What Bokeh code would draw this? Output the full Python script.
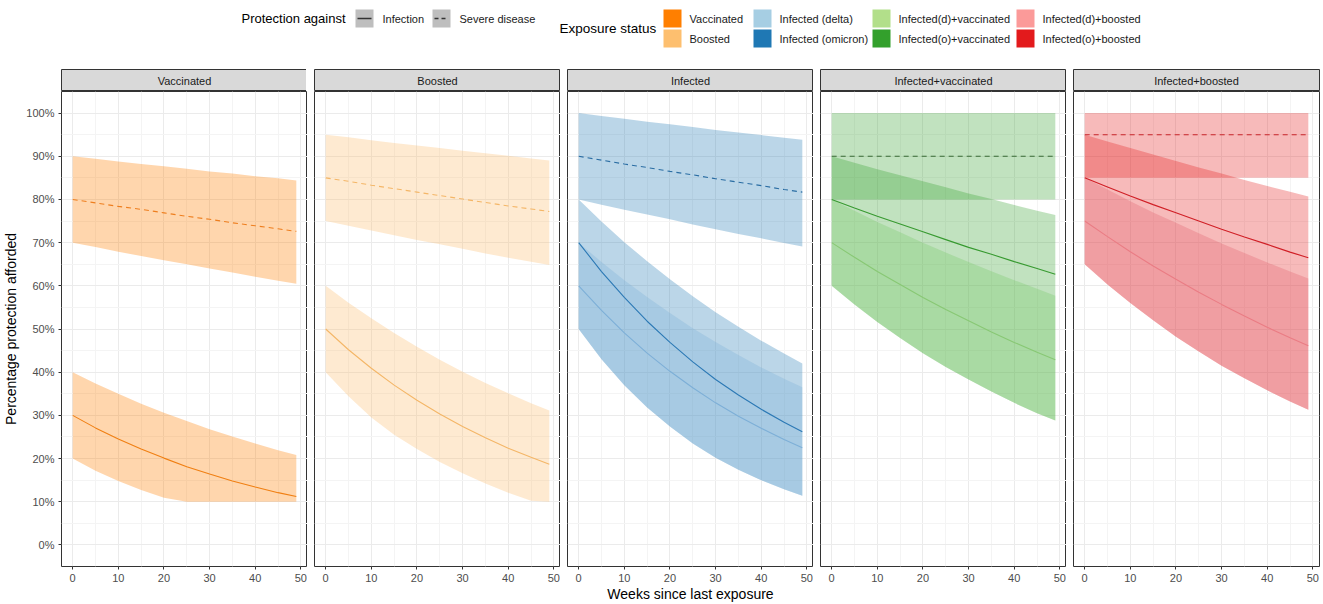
from bokeh.plotting import figure
from bokeh.layouts import column, row
from bokeh.models import FixedTicker, PrintfTickFormatter, Range1d
from bokeh.embed import file_html
from bokeh.resources import INLINE
from bokeh.core.properties import value

FONT = "Liberation Sans"

# ---------------- data ----------------
weeks = [0, 5, 10, 15, 20, 25, 30, 35, 40, 45, 49]
panel_names = ["Vaccinated", "Boosted", "Infected", "Infected+vaccinated", "Infected+boosted"]
x_ticks = [0, 10, 20, 30, 40, 50]
y_ticks = [0, 10, 20, 30, 40, 50, 60, 70, 80, 90, 100]

status_labels = ["Vaccinated", "Boosted", "Infected (delta)", "Infected (omicron)",
                 "Infected(d)+vaccinated", "Infected(o)+vaccinated",
                 "Infected(d)+boosted", "Infected(o)+boosted"]
status_colors = ["#FF7F00", "#FDBF6F", "#A6CEE3", "#1F78B4",
                 "#B2DF8A", "#33A02C", "#FB9A99", "#E31A1C"]
protection_labels = ["Infection", "Severe disease"]

# Vaccinated
vacc_inf = [30.0, 27.1, 24.5, 22.2, 20.1, 18.1, 16.4, 14.8, 13.4, 12.1, 11.2]
vacc_inf_hi = [40.0, 37.4, 35.0, 32.7, 30.6, 28.7, 26.8, 25.1, 23.5, 21.9, 20.8]
vacc_inf_lo = [20.0, 17.2, 14.8, 12.7, 10.9, 10.0, 10.0, 10.0, 10.0, 10.0, 10.0]
vacc_sev = [80.0, 79.2, 78.4, 77.7, 76.9, 76.1, 75.4, 74.6, 73.9, 73.2, 72.6]
vacc_sev_hi = [90.0, 89.4, 88.8, 88.2, 87.7, 87.1, 86.5, 86.0, 85.4, 84.9, 84.4]
vacc_sev_lo = [70.0, 69.0, 67.9, 66.9, 65.9, 65.0, 64.0, 63.1, 62.1, 61.2, 60.5]

# Boosted
boost_inf = [50.0, 45.2, 40.9, 37.0, 33.5, 30.3, 27.4, 24.8, 22.4, 20.3, 18.7]
boost_inf_hi = [60.0, 56.1, 52.5, 49.1, 45.9, 42.9, 40.1, 37.5, 35.1, 32.8, 31.1]
boost_inf_lo = [40.0, 34.4, 29.5, 25.5, 22.2, 19.2, 16.6, 14.2, 12.1, 10.2, 10.0]
boost_sev = [85.0, 84.2, 83.3, 82.5, 81.7, 80.9, 80.1, 79.3, 78.5, 77.8, 77.2]
boost_sev_hi = [95.0, 94.4, 93.7, 93.1, 92.5, 91.9, 91.3, 90.7, 90.1, 89.5, 89.0]
boost_sev_lo = [75.0, 73.9, 72.8, 71.7, 70.6, 69.6, 68.6, 67.5, 66.5, 65.6, 64.8]

# Infected
inf_sev = [90.0, 89.1, 88.2, 87.4, 86.5, 85.7, 84.8, 84.0, 83.2, 82.3, 81.7]
inf_sev_hi = [100.0, 99.3, 98.7, 98.0, 97.4, 96.8, 96.1, 95.5, 94.9, 94.3, 93.8]
inf_sev_lo = [80.0, 78.8, 77.6, 76.5, 75.4, 74.2, 73.1, 72.0, 71.0, 69.9, 69.1]
inf_o = [70.0, 63.3, 57.3, 51.8, 46.9, 42.4, 38.3, 34.7, 31.4, 28.4, 26.2]
inf_o_hi = [80.0, 74.9, 70.1, 65.7, 61.5, 57.6, 53.9, 50.5, 47.3, 44.3, 42.0]
inf_d = [60.0, 54.3, 49.1, 44.4, 40.2, 36.4, 32.9, 29.8, 27.0, 24.4, 22.5]
inf_d_hi = [70.0, 65.5, 61.3, 57.4, 53.7, 50.2, 47.0, 44.0, 41.1, 38.5, 36.5]
inf_lo = [50.0, 43.0, 37.0, 31.8, 27.4, 23.5, 20.2, 17.4, 15.0, 12.9, 11.4]

# Infected+vaccinated
iv_sev = [90.0, 90.0, 90.0, 90.0, 90.0, 90.0, 90.0, 90.0, 90.0, 90.0, 90.0]
iv_sev_hi = [100.0, 100.0, 100.0, 100.0, 100.0, 100.0, 100.0, 100.0, 100.0, 100.0, 100.0]
iv_sev_lo = [80.0, 80.0, 80.0, 80.0, 80.0, 80.0, 80.0, 80.0, 80.0, 80.0, 80.0]
iv_o = [80.0, 78.0, 76.1, 74.3, 72.5, 70.7, 68.9, 67.3, 65.6, 64.0, 62.7]
iv_o_hi = [90.0, 88.5, 87.0, 85.6, 84.2, 82.8, 81.4, 80.1, 78.7, 77.4, 76.4]
iv_d = [70.0, 66.6, 63.3, 60.3, 57.3, 54.5, 51.9, 49.3, 46.9, 44.6, 42.9]
iv_d_hi = [80.0, 77.4, 74.8, 72.4, 70.0, 67.7, 65.5, 63.4, 61.3, 59.3, 57.7]
iv_lo = [60.0, 55.7, 51.6, 47.9, 44.4, 41.2, 38.3, 35.5, 32.9, 30.5, 28.8]

# Infected+boosted
ib_sev = [95.0, 95.0, 95.0, 95.0, 95.0, 95.0, 95.0, 95.0, 95.0, 95.0, 95.0]
ib_sev_hi = [100.0, 100.0, 100.0, 100.0, 100.0, 100.0, 100.0, 100.0, 100.0, 100.0, 100.0]
ib_sev_lo = [85.0, 85.0, 85.0, 85.0, 85.0, 85.0, 85.0, 85.0, 85.0, 85.0, 85.0]
ib_o = [85.0, 82.9, 80.8, 78.8, 76.9, 75.0, 73.1, 71.3, 69.6, 67.8, 66.5]
ib_o_hi = [95.0, 93.4, 91.9, 90.4, 88.9, 87.4, 86.0, 84.5, 83.1, 81.8, 80.7]
ib_d = [75.0, 71.4, 67.9, 64.6, 61.5, 58.5, 55.7, 53.0, 50.4, 48.0, 46.1]
ib_d_hi = [85.0, 82.3, 79.6, 77.0, 74.6, 72.2, 69.8, 67.6, 65.4, 63.3, 61.7]
ib_lo = [65.0, 60.3, 56.0, 52.0, 48.2, 44.8, 41.5, 38.6, 35.8, 33.2, 31.3]

# ---------------- panel specs (built from the arrays above) ----------------
A = 0.3
panels = [
    dict(bands=[(vacc_sev_lo, vacc_sev_hi, "#FF7F00", 0.32), (vacc_inf_lo, vacc_inf_hi, "#FF7F00", 0.32)],
         lines=[(vacc_sev, "#EE7E1E", "dashed"), (vacc_inf, "#F07F12", "solid")]),
    dict(bands=[(boost_sev_lo, boost_sev_hi, "#FDBF6F", 0.32), (boost_inf_lo, boost_inf_hi, "#FDBF6F", 0.32)],
         lines=[(boost_sev, "#F4B667", "dashed"), (boost_inf, "#F4B667", "solid")]),
    dict(bands=[(inf_sev_lo, inf_sev_hi, "#1F78B4", A), (inf_lo, inf_o_hi, "#1F78B4", A), (inf_lo, inf_d_hi, "#79AED7", A)],
         lines=[(inf_sev, "#2A6DA3", "dashed"), (inf_d, "#7DAFD7", "solid"), (inf_o, "#2C79B5", "solid")]),
    dict(bands=[(iv_sev_lo, iv_sev_hi, "#33A02C", A), (iv_lo, iv_o_hi, "#33A02C", A), (iv_lo, iv_d_hi, "#75C663", A)],
         lines=[(iv_sev, "#3A6A36", "dashed"), (iv_d, "#88C874", "solid"), (iv_o, "#379A30", "solid")]),
    dict(bands=[(ib_sev_lo, ib_sev_hi, "#E31A1C", A), (ib_lo, ib_o_hi, "#E31A1C", A), (ib_lo, ib_d_hi, "#E05D6B", A)],
         lines=[(ib_sev, "#C8242A", "dashed"), (ib_d, "#EA7C84", "solid"), (ib_o, "#D01F26", "solid")]),
]

FRAME_W = 246
FRAME_H = 475
STRIP_H = 22
LEFT0 = 60
GAP = 7
RIGHT_LAST = 2
LEG_H = 60
TOTAL_W = LEFT0 + 5 * FRAME_W + 4 * GAP + RIGHT_LAST

# ---------------- legend strip ----------------
leg = figure(width=TOTAL_W, height=LEG_H, x_range=Range1d(0, TOTAL_W), y_range=Range1d(LEG_H, 0),
             output_backend="svg", toolbar_location=None, min_border=0)
leg.axis.visible = False
leg.grid.visible = False
leg.outline_line_color = None

leg.text(x=[241], y=[18], text=["Protection against"], text_font=value(FONT), text_font_size="13px",
         text_baseline="middle", text_align="left", text_color="#000000")
prot_x = [355, 432]
for k, lab in enumerate(protection_labels):
    leg.rect(x=[prot_x[k] + 9], y=[18], width=18, height=18, fill_color="#BEBEBE", line_color=None)
    leg.line(x=[prot_x[k] + 2, prot_x[k] + 16], y=[18, 18], line_color="#333333", line_width=1.3,
             line_dash="solid" if k == 0 else "4 3")
    leg.text(x=[prot_x[k] + 27], y=[18], text=[lab], text_font=value(FONT), text_font_size="11px",
             text_baseline="middle", text_align="left", text_color="#1A1A1A")

leg.text(x=[559], y=[28], text=["Exposure status"], text_font=value(FONT), text_font_size="13.5px",
         text_baseline="middle", text_align="left", text_color="#000000")
col_x = [663, 753, 872, 1016]
row_y = [18, 38]
for k, (lab, col) in enumerate(zip(status_labels, status_colors)):
    cx = col_x[k // 2]
    cy = row_y[k % 2]
    leg.rect(x=[cx + 9], y=[cy], width=18, height=18, fill_color=col, line_color=None)
    leg.text(x=[cx + 26], y=[cy], text=[lab], text_font=value(FONT), text_font_size="11px",
             text_baseline="middle", text_align="left", text_color="#1A1A1A")

# ---------------- panels ----------------
cols = []
for i, (name, spec) in enumerate(zip(panel_names, panels)):
    left = LEFT0 if i == 0 else GAP
    right = RIGHT_LAST if i == 4 else 0

    s = figure(frame_width=FRAME_W, frame_height=STRIP_H, x_range=Range1d(0, 1), y_range=Range1d(0, 1),
               output_backend="svg", toolbar_location=None,
               min_border_left=left, min_border_right=right, min_border_top=9, min_border_bottom=0)
    s.axis.visible = False
    s.grid.visible = False
    s.background_fill_color = "#D9D9D9"
    s.outline_line_color = "#333333"
    s.outline_line_width = 1
    s.text(x=[0.5], y=[0.5], text=[name], text_font=value(FONT), text_font_size="11px",
           text_align="center", text_baseline="middle", text_color="#1A1A1A")

    p = figure(frame_width=FRAME_W, frame_height=FRAME_H,
               x_range=Range1d(-2.45, 51.45), y_range=Range1d(-5, 105),
               output_backend="svg", toolbar_location=None,
               min_border_left=left, min_border_right=right,
               min_border_top=0, min_border_bottom=36)
    p.outline_line_color = "#333333"
    p.outline_line_width = 1
    p.background_fill_color = "white"

    p.xaxis.ticker = FixedTicker(ticks=x_ticks, minor_ticks=[5, 15, 25, 35, 45])
    p.yaxis.ticker = FixedTicker(ticks=y_ticks, minor_ticks=[5, 15, 25, 35, 45, 55, 65, 75, 85, 95])
    p.yaxis.formatter = PrintfTickFormatter(format="%d%%")
    for ax in (p.xaxis, p.yaxis):
        ax.axis_line_color = None
        ax.major_tick_line_color = "#333333"
        ax.major_tick_out = 3
        ax.major_tick_in = 0
        ax.minor_tick_line_color = None
        ax.major_label_text_font = FONT
        ax.major_label_text_font_size = "11px"
        ax.major_label_text_color = "#4D4D4D"
        ax.major_label_standoff = 3
    p.xgrid.grid_line_color = "#EBEBEB"
    p.ygrid.grid_line_color = "#EBEBEB"
    p.xgrid.minor_grid_line_color = "#F4F4F4"
    p.ygrid.minor_grid_line_color = "#F4F4F4"

    if i == 0:
        p.yaxis.axis_label = "Percentage protection afforded"
        p.yaxis.axis_label_text_font = FONT
        p.yaxis.axis_label_text_font_size = "14px"
        p.yaxis.axis_label_text_font_style = "normal"
        p.yaxis.axis_label_text_color = "#000000"
        p.yaxis.axis_label_standoff = 4
    else:
        p.yaxis.visible = False
    if i == 2:
        p.xaxis.axis_label = "Weeks since last exposure"
        p.xaxis.axis_label_text_font = FONT
        p.xaxis.axis_label_text_font_size = "14px"
        p.xaxis.axis_label_text_font_style = "normal"
        p.xaxis.axis_label_text_color = "#000000"
        p.xaxis.axis_label_standoff = 1

    for lo, hi, col, a in spec["bands"]:
        p.varea(x=weeks, y1=lo, y2=hi, fill_color=col, fill_alpha=a)
    for vals, col, dash in spec["lines"]:
        p.line(x=weeks, y=vals, line_color=col, line_width=1.1,
               line_dash="5 4" if dash == "dashed" else "solid")
    cols.append(column(s, p, spacing=0))

layout = column(leg, row(*cols, spacing=0), spacing=0)
open("out.html", "w").write(file_html(layout, INLINE))
